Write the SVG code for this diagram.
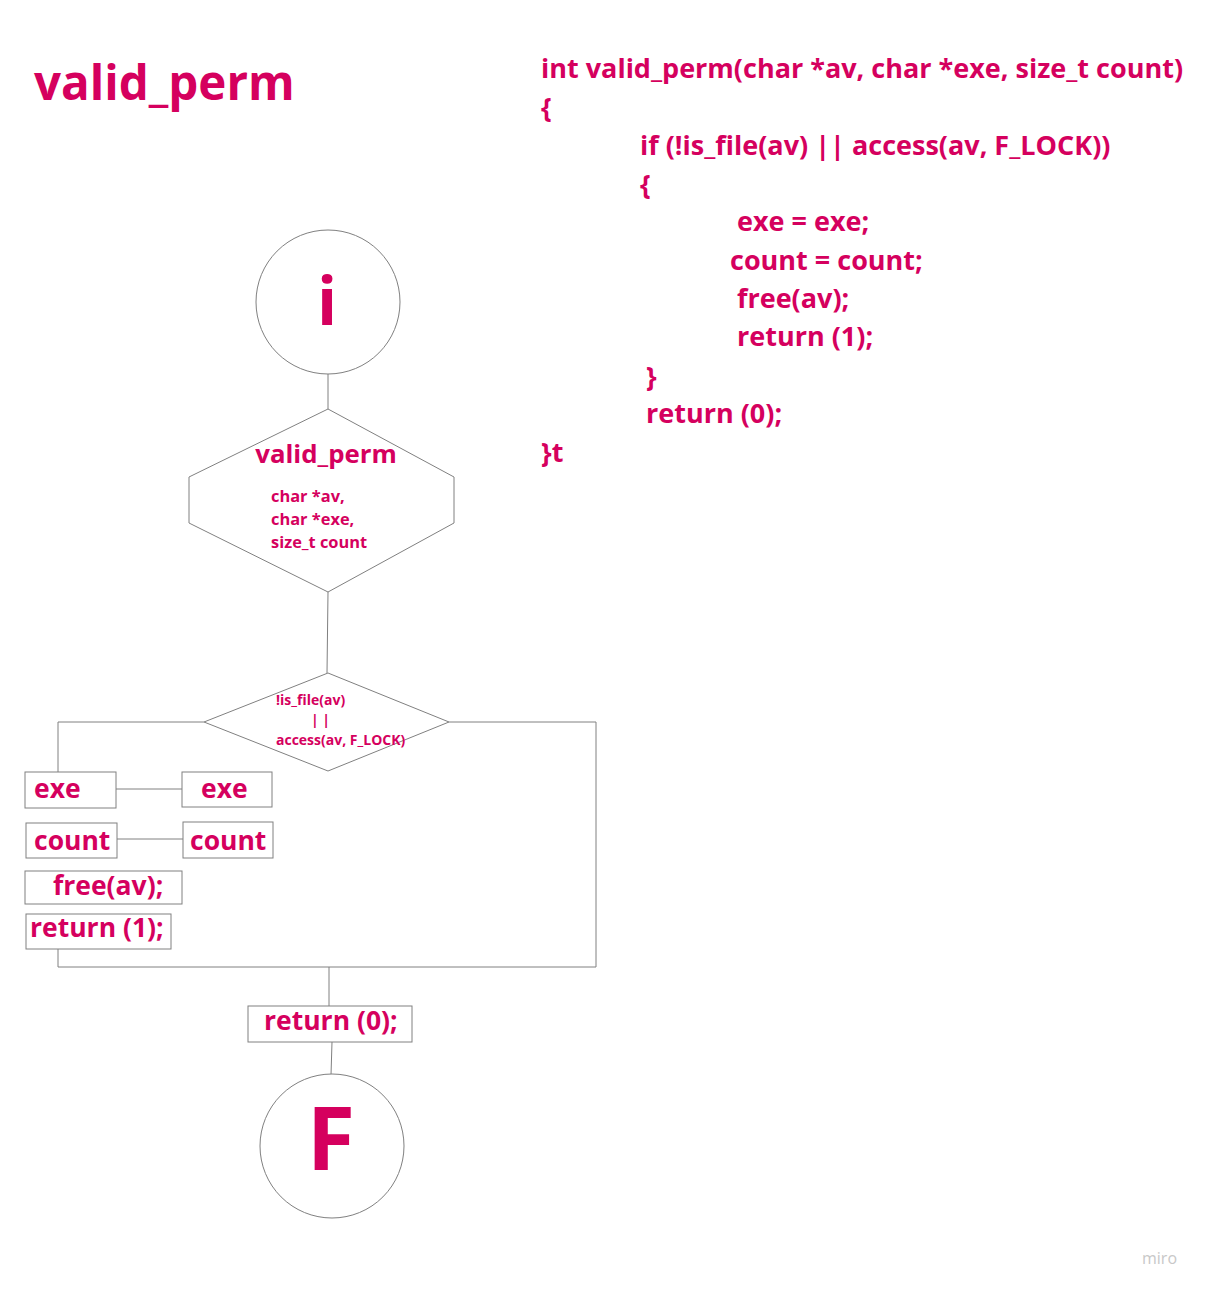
<svg xmlns="http://www.w3.org/2000/svg" width="1208" height="1292" viewBox="0 0 1208 1292">
<style>
text{font-family:"Open Sans","Noto Sans","Liberation Sans",sans-serif;fill:#d5005e;font-weight:700}
.shape{fill:#fff;stroke:#808080;stroke-width:1}
.conn{fill:none;stroke:#808080;stroke-width:1}
.code{font-size:27px}
.box{font-size:26.5px}
</style>
<rect width="1208" height="1292" fill="#fff"/>
<text x="34" y="100" style="font-size:47.5px">valid_perm</text>
<g id="code" class="code">
<text x="541" y="78">int valid_perm(char *av, char *exe, size_t count)</text>
<text x="541" y="117">{</text>
<text x="640" y="155">if (!is_file(av) || access(av, F_LOCK))</text>
<text x="640" y="194">{</text>
<text x="737" y="231">exe = exe;</text>
<text x="730" y="270">count = count;</text>
<text x="737" y="308">free(av);</text>
<text x="737" y="346">return (1);</text>
<text x="646" y="386">}</text>
<text x="646" y="423">return (0);</text>
<text x="541" y="462">}t</text>
</g>
<g id="connectors">
<line class="conn" x1="328" y1="374" x2="328" y2="409"/>
<line class="conn" x1="328" y1="592" x2="327" y2="673"/>
<polyline class="conn" points="204,722 58,722 58,772"/>
<polyline class="conn" points="449,722 596,722 596,967 58,967"/>
<line class="conn" x1="115" y1="789" x2="183" y2="789"/>
<line class="conn" x1="116" y1="839" x2="184" y2="839"/>
<line class="conn" x1="58" y1="949" x2="58" y2="967"/>
<line class="conn" x1="329" y1="967" x2="329" y2="1006"/>
<line class="conn" x1="332" y1="1042" x2="331" y2="1075"/>
</g>
<g id="start">
<circle class="shape" cx="328" cy="302" r="72"/>
<text x="327" y="325" text-anchor="middle" style="font-size:66px">i</text>
</g>
<g id="func">
<polygon class="shape" points="328,409 454,477 454,523 328,592 189,523 189,477"/>
<text x="326" y="463" text-anchor="middle" style="font-size:25.8px">valid_perm</text>
<text x="271" y="502" style="font-size:16.4px">char *av,</text>
<text x="271" y="525" style="font-size:16.4px">char *exe,</text>
<text x="271" y="548" style="font-size:16.4px">size_t count</text>
</g>
<g id="cond">
<polygon class="shape" points="328,673 449,722 328,771 204,722"/>
<text x="276" y="705" style="font-size:14px">!is_file(av)</text>
<text x="311" y="725" style="font-size:14px">| |</text>
<text x="276" y="745" style="font-size:14px">access(av, F_LOCK)</text>
</g>
<g id="exe1"><rect class="shape" x="25" y="772" width="91" height="36"/><text class="box" x="34" y="798">exe</text></g>
<g id="exe2"><rect class="shape" x="182" y="772" width="90" height="35"/><text class="box" x="201" y="798">exe</text></g>
<g id="count1"><rect class="shape" x="26" y="823" width="91" height="35"/><text class="box" x="34" y="850">count</text></g>
<g id="count2"><rect class="shape" x="183" y="822" width="90" height="36"/><text class="box" x="190" y="850">count</text></g>
<g id="free"><rect class="shape" x="25" y="871" width="157" height="33"/><text class="box" x="53" y="895">free(av);</text></g>
<g id="ret1"><rect class="shape" x="26" y="914" width="145" height="35"/><text class="box" x="30" y="937">return (1);</text></g>
<g id="ret0"><rect class="shape" x="248" y="1006" width="164" height="36"/><text class="box" x="264" y="1030">return (0);</text></g>
<g id="end">
<circle class="shape" cx="332" cy="1146" r="72"/>
<text x="331" y="1170" text-anchor="middle" style="font-size:88px">F</text>
</g>
<text x="1142" y="1264" style="font-size:16px;fill:#c8c8c8;font-weight:400">miro</text>
</svg>
